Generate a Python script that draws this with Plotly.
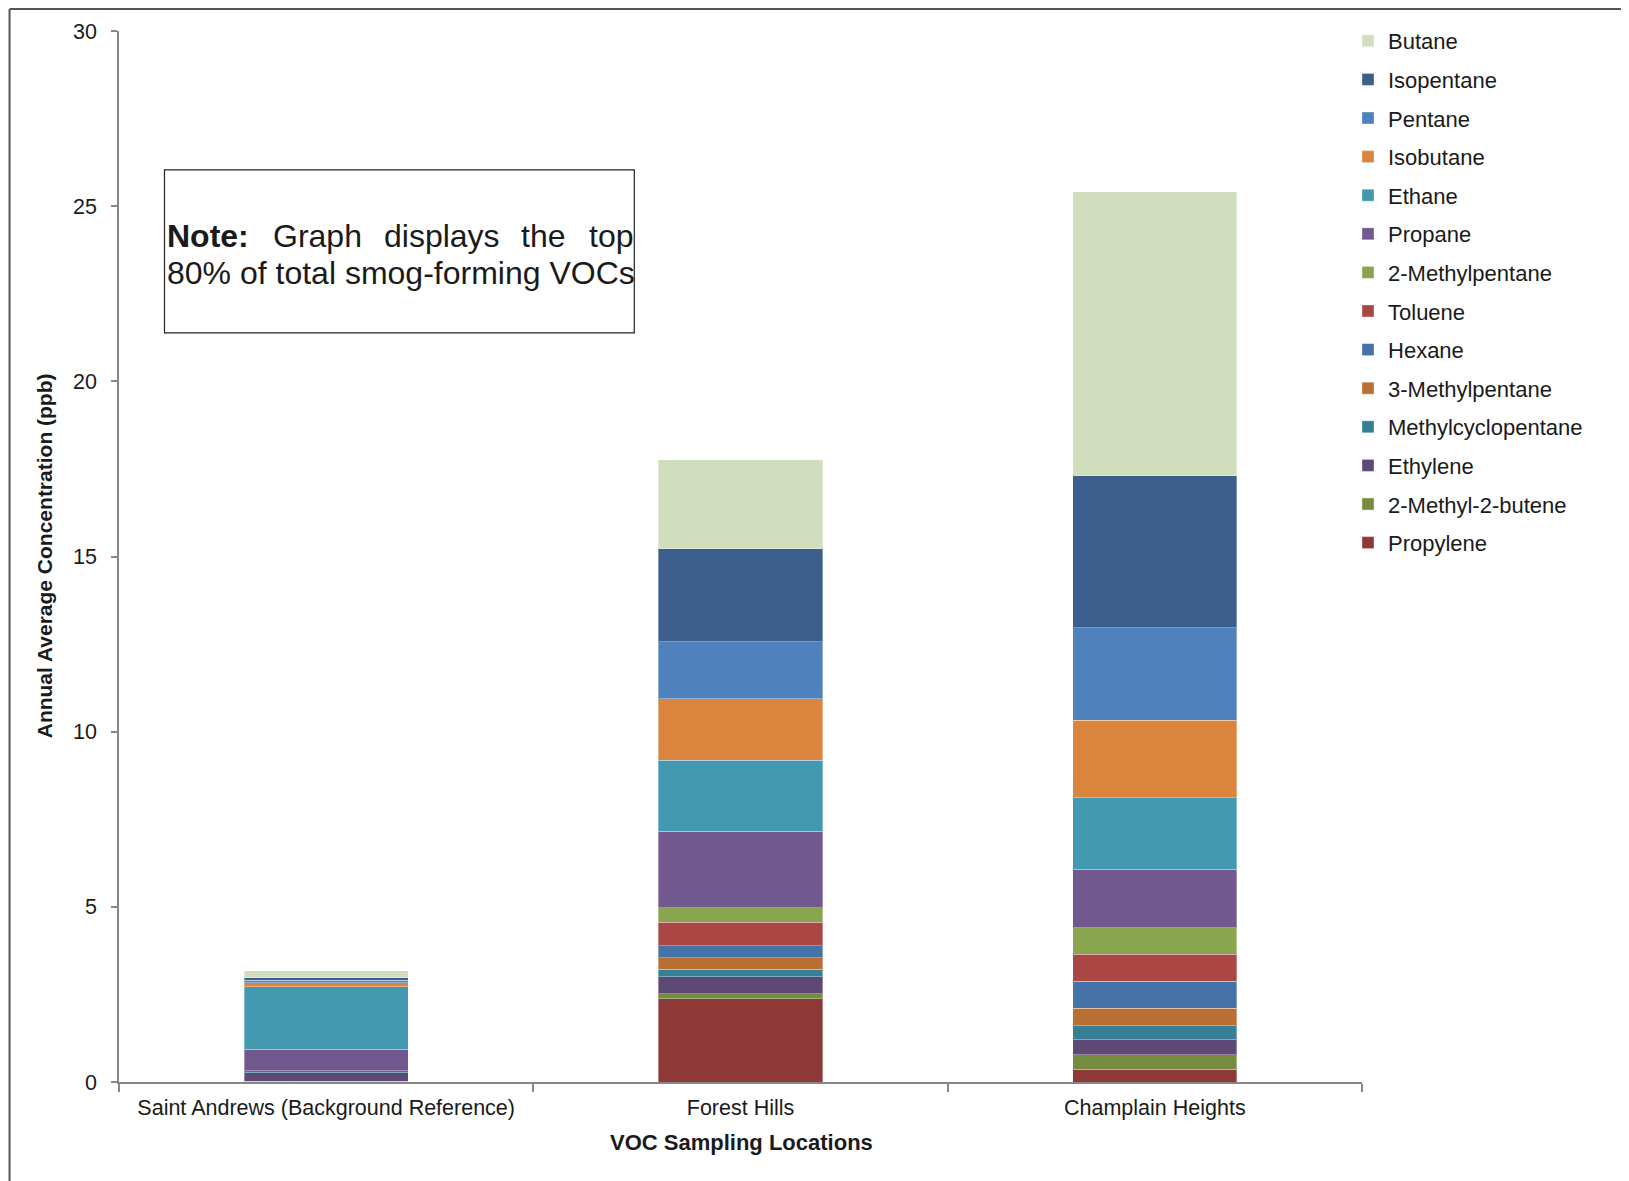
import plotly.graph_objects as go

# ---------------- data ----------------
locations = ["Saint Andrews (Background Reference)", "Forest Hills", "Champlain Heights"]

# stacked bottom -> top
propylene          = [0.02, 2.37, 0.37]
methyl_2_butene    = [0.00, 0.15, 0.41]
ethylene           = [0.25, 0.49, 0.42]
methylcyclopentane = [0.05, 0.21, 0.41]
methylpentane_3    = [0.00, 0.32, 0.50]
hexane             = [0.00, 0.35, 0.77]
toluene            = [0.00, 0.67, 0.76]
methylpentane_2    = [0.00, 0.41, 0.76]
propane            = [0.61, 2.19, 1.68]
ethane             = [1.79, 2.02, 2.04]
isobutane          = [0.12, 1.76, 2.20]
pentane            = [0.07, 1.62, 2.65]
isopentane         = [0.06, 2.66, 4.33]
butane             = [0.21, 2.54, 8.11]

series_names = ["Propylene", "2-Methyl-2-butene", "Ethylene", "Methylcyclopentane",
                "3-Methylpentane", "Hexane", "Toluene", "2-Methylpentane", "Propane",
                "Ethane", "Isobutane", "Pentane", "Isopentane", "Butane"]
series_values = [propylene, methyl_2_butene, ethylene, methylcyclopentane,
                 methylpentane_3, hexane, toluene, methylpentane_2, propane,
                 ethane, isobutane, pentane, isopentane, butane]
series_colors = ["#8E3937", "#748B40", "#5E4876", "#367F94",
                 "#BA6F32", "#4572A7", "#AA4643", "#89A54E", "#71588F",
                 "#4198AF", "#DB843D", "#4F81BD", "#3B5E8C", "#D1DEBE"]

# ---------------- layout geometry ----------------
OFF = 8                      # page body margin
W, H = 1629 - OFF, 1181 - OFF
# plot area edges in page pixels
PL, PR, PT, PB = 118.5, 1362.0, 31.0, 1082.5


def px(x):  # page x -> paper
    return (x - PL) / (PR - PL)


def py(y):  # page y -> paper
    return (PB - y) / (PB - PT)


FONT = "Liberation Sans, Arial, sans-serif"
TXT = "#1a1a1a"

fig = go.Figure()
for i, (name, vals, col) in enumerate(zip(series_names, series_values, series_colors)):
    fig.add_trace(go.Bar(
        x=locations, y=vals, name=name, legendgroup=name, legendrank=1000 - i,
        marker=dict(color=col, line=dict(color="rgba(255,255,255,0.35)", width=1)),
    ))

axis_col = "#868686"
fig.update_layout(
    width=W, height=H,
    barmode="stack", bargap=0.604,
    plot_bgcolor="white", paper_bgcolor="white",
    margin=dict(l=PL - OFF, r=W - (PR - OFF), t=PT - OFF, b=H - (PB - OFF), autoexpand=False),
    font=dict(family=FONT, size=21, color=TXT),
    showlegend=True,
    legend=dict(
        traceorder="grouped", tracegroupgap=7,
        x=px(1348), y=py(20), xanchor="left", yanchor="top",
        font=dict(family=FONT, size=22, color=TXT),
        bgcolor="rgba(0,0,0,0)", itemwidth=30,
    ),
    xaxis=dict(
        type="category", tickson="boundaries", ticks="outside", ticklen=8,
        tickcolor=axis_col, tickwidth=1.5, showline=True, linecolor=axis_col,
        linewidth=1.5, showgrid=False, ticklabelstandoff=5,
        tickfont=dict(family=FONT, size=21.5, color=TXT),
        range=[-0.5, 2.5],
    ),
    yaxis=dict(
        range=[0, 30], dtick=5, tick0=0, ticks="outside", ticklen=6,
        tickcolor=axis_col, tickwidth=1.5, showline=True, linecolor=axis_col,
        linewidth=1.5, showgrid=False, zeroline=False, ticklabelstandoff=10,
        tickfont=dict(family=FONT, size=21.5, color=TXT),
    ),
)

annotations = [
    dict(text="<b>Annual Average Concentration (ppb)</b>", x=px(44), y=py(556),
         textangle=-90, font=dict(family=FONT, size=21, color=TXT)),
    dict(text="<b>VOC Sampling Locations</b>", x=px(741), y=py(1143),
         font=dict(family=FONT, size=22, color=TXT)),
]
# Note box text (justified first line)
note_font = dict(family=FONT, size=32, color=TXT)
line1 = [("<b>Note:</b>", 165), ("Graph", 271), ("displays", 382), ("the", 519), ("top", 587)]
for word, xpos in line1:
    annotations.append(dict(text=word, x=px(xpos), y=py(236), xanchor="left", font=note_font))
annotations.append(dict(text="80% of total smog-forming VOCs", x=px(165), y=py(273),
                        xanchor="left", font=note_font))
for a in annotations:
    a.setdefault("xref", "paper")
    a.setdefault("yref", "paper")
    a.setdefault("xanchor", "center")
    a.setdefault("yanchor", "middle")
    a.setdefault("showarrow", False)
fig.update_layout(annotations=annotations)

shapes = [
    # note box
    dict(type="rect", xref="paper", yref="paper", x0=px(164), x1=px(634), y0=py(333), y1=py(170),
         line=dict(color="#222222", width=1.2), fillcolor="rgba(0,0,0,0)"),
    # outer frame (top and left edges)
    dict(type="line", xref="paper", yref="paper", x0=px(OFF + 1), x1=px(1700), y0=py(OFF + 1),
         y1=py(OFF + 1), line=dict(color="#555555", width=2)),
    dict(type="line", xref="paper", yref="paper", x0=px(OFF + 1), x1=px(OFF + 1), y0=py(OFF + 1),
         y1=py(1250), line=dict(color="#555555", width=2)),
]
fig.update_layout(shapes=shapes)

fig.write_html("out.html")
